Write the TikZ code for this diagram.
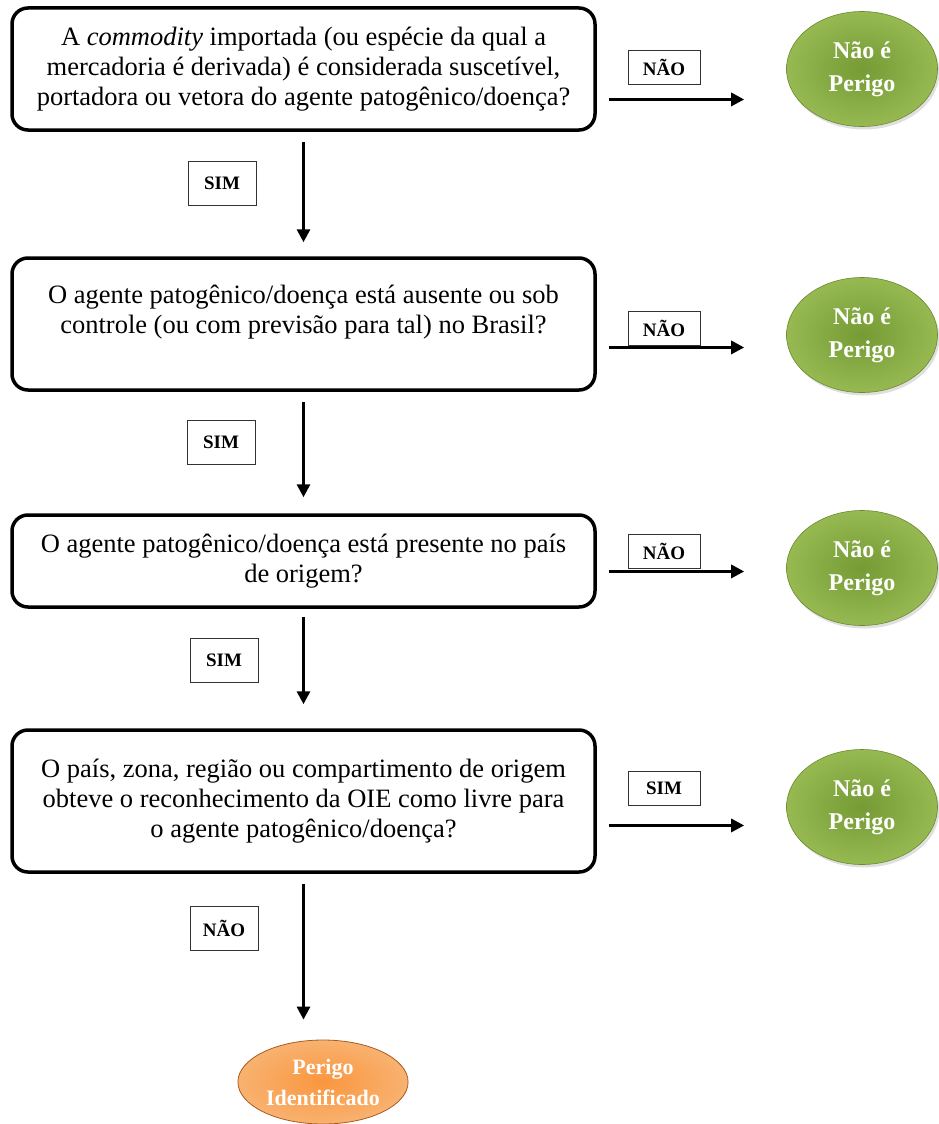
\documentclass[tikz,border=0pt]{standalone}
\usepackage{fontspec}
\setmainfont{Liberation Serif}
\usetikzlibrary{shapes,arrows.meta,positioning,calc,shadows}
\definecolor{verdemeio}{RGB}{118,155,52}
\definecolor{verdeborda}{RGB}{150,185,82}
\definecolor{verdelinha}{RGB}{105,138,45}
\definecolor{laranjameio}{RGB}{250,150,62}
\definecolor{laranjaborda}{RGB}{248,178,112}
\definecolor{laranjalinha}{RGB}{170,90,35}
\tikzstyle{pergunta} = [draw, line width=3.5pt, rectangle, rounded corners=16pt,
    minimum width=583pt, align=center, font=\fontsize{26.5}{30}\selectfont]
\tikzstyle{rotulo} = [draw=black!80, line width=0.9pt, rectangle,
    minimum width=72pt, minimum height=34pt, font=\fontsize{19}{22}\selectfont\bfseries]
\tikzstyle{rotulosim} = [rotulo, minimum width=68pt, minimum height=44pt]
\tikzstyle{naoperigo} = [ellipse, draw=verdelinha, line width=0.6pt,
    inner color=verdemeio, outer color=verdeborda, minimum width=151pt, minimum height=115pt,
    text=white, align=center, font=\fontsize{24}{33}\selectfont\bfseries,
    drop shadow={opacity=0.25, shadow xshift=2pt, shadow yshift=-3pt}]
\tikzstyle{perigo} = [ellipse, draw=laranjalinha, line width=0.8pt,
    inner color=laranjameio, outer color=laranjaborda, minimum width=165pt, minimum height=84pt,
    text=white, align=center, font=\fontsize{22}{31}\selectfont\bfseries]
\tikzstyle{seta} = [-{Triangle[length=13pt, width=13pt]}, line width=3pt]
\begin{document}
\begin{tikzpicture}[x=1pt, y=-1pt]
\useasboundingbox (0,0) rectangle (938,1124);

% perguntas
\node[pergunta, minimum height=122pt] (q1) at (303.5,69) {%
    A \textit{commodity} importada (ou espécie da qual a\\
    mercadoria é derivada) é considerada suscetível,\\
    portadora ou vetora do agente patogênico/doença?};
\node[pergunta, minimum height=132pt, text depth=30pt] (q2) at (303.5,324) {%
    O agente patogênico/doença está ausente ou sob\\
    controle (ou com previsão para tal) no Brasil?};
\node[pergunta, minimum height=92pt] (q3) at (303.5,561) {%
    O agente patogênico/doença está presente no país\\
    de origem?};
\node[pergunta, minimum height=142pt] (q4) at (303.5,801) {%
    O país, zona, região ou compartimento de origem\\
    obteve o reconhecimento da OIE como livre para\\
    o agente patogênico/doença?};

% resultados
\node[naoperigo] (v1) at (862,69) {Não é\\Perigo};
\node[naoperigo] (v2) at (862,335) {Não é\\Perigo};
\node[naoperigo] (v3) at (862,568) {Não é\\Perigo};
\node[naoperigo] (v4) at (862,807) {Não é\\Perigo};
\node[perigo] (fim) at (323,1082) {Perigo\\Identificado};

% rotulos
\node[rotulo] (r1) at (664,67) {NÃO};
\node[rotulo] (r2) at (664,328) {NÃO};
\node[rotulo] (r3) at (664,551) {NÃO};
\node[rotulo] (r4) at (664,788) {SIM};
\node[rotulosim] (s1) at (222,183) {SIM};
\node[rotulosim] (s2) at (221,442) {SIM};
\node[rotulosim] (s3) at (224,660) {SIM};
\node[rotulosim] (s4) at (224,928) {NÃO};

% setas
\draw[seta, shorten <=10pt, shorten >=14pt] (q1.south) -- (q2.north);
\draw[seta, shorten <=10pt, shorten >=16pt] (q2.south) -- (q3.north);
\draw[seta, shorten <=8pt, shorten >=24pt] (q3.south) -- (q4.north);
\draw[seta, shorten <=10pt, shorten >=20pt] (q4.south) -- (fim.north -| q4.south);
\draw[seta] ($(q1.east |- r1.south)+(12,15)$) -- ($(v1.west |- r1.south)+(-42,15)$);
\draw[seta] ($(q2.east |- r2.south)+(12,2)$) -- ($(v2.west |- r2.south)+(-42,2)$);
\draw[seta] ($(q3.east |- r3.south)+(12,3)$) -- ($(v3.west |- r3.south)+(-42,3)$);
\draw[seta] ($(q4.east |- r4.south)+(12,20)$) -- ($(v4.west |- r4.south)+(-42,20)$);
\end{tikzpicture}
\end{document}
